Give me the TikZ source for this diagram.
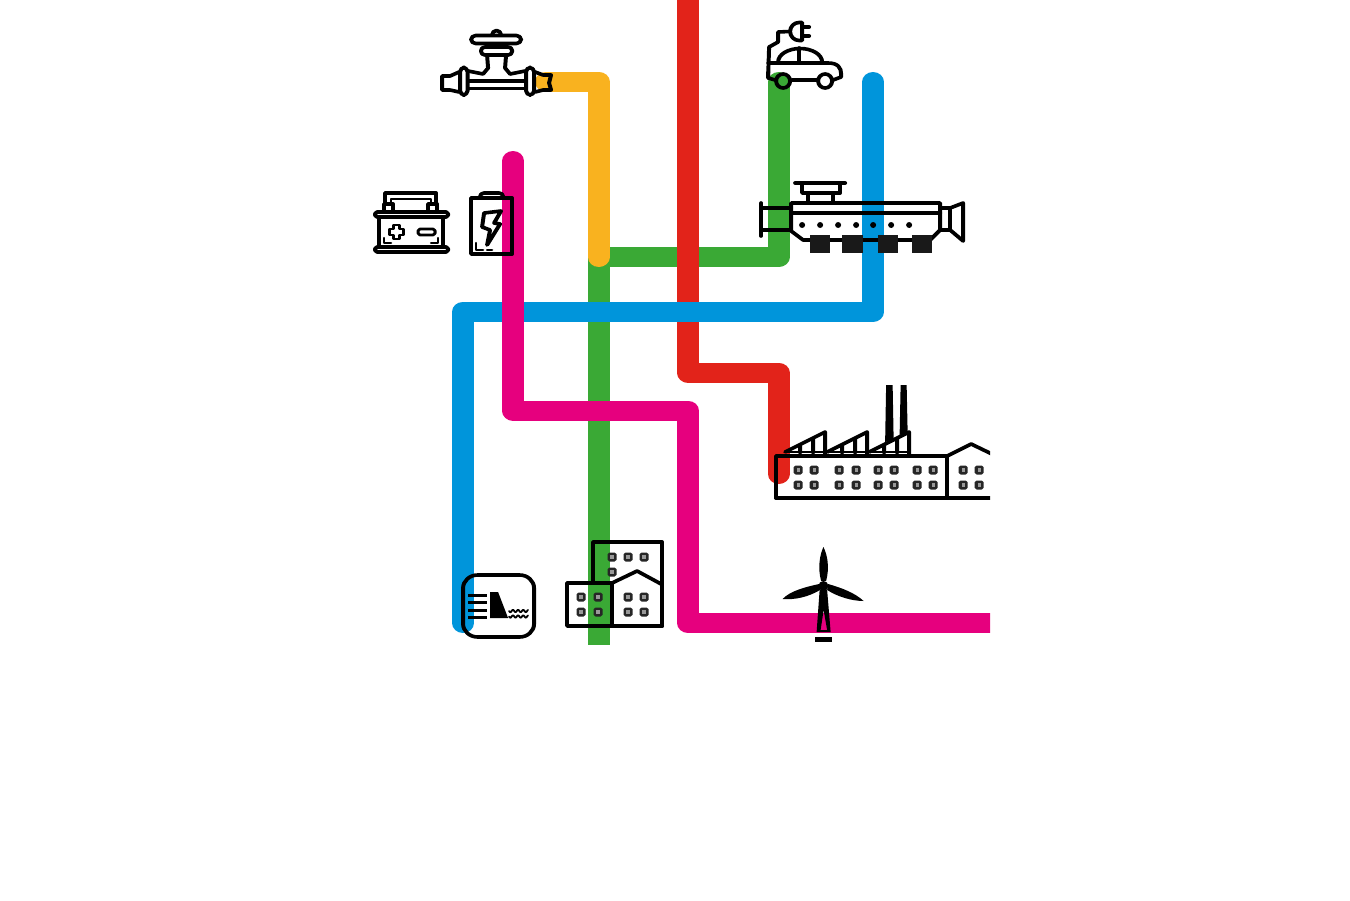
\documentclass[tikz,border=0pt]{standalone}
\usetikzlibrary{calc}
\definecolor{pipered}{HTML}{E2231A}
\definecolor{pipegreen}{HTML}{3AA935}
\definecolor{pipeblue}{HTML}{0095DB}
\definecolor{pipepink}{HTML}{E6007E}
\definecolor{pipeyellow}{HTML}{F9B21F}
\begin{document}
\begin{tikzpicture}[
    x=0.02cm, y=-0.02cm,
    pipe/.style={line width=0.4cm, line join=round, line cap=round},
    icon/.style={line width=0.072cm, line join=round, line cap=round, draw=black},
    thinicon/.style={icon, line width=0.045cm},
    win/.pic={
        \fill[black!85, rounded corners=1pt] (-4.5,-4.5) rectangle (4.5,4.5);
        \fill[black!40] (-1.6,-1.6) rectangle (1.6,1.6);
    }
    ]
    \useasboundingbox (0,0) rectangle (1350,900);
\begin{scope}[transform canvas={xscale=1.1}, x=0.0181818cm]
    \clip (0,-20) rectangle (990,644);
    % pipe corners
    \coordinate (tapend) at (546,81.7);
    \coordinate (tapcorner) at (598.5,81.7);
    \coordinate (greenjoint) at (598.5,257);
    \coordinate (greenbottom) at (598.5,660);
    \coordinate (greencorner) at (778.5,257);
    \coordinate (carend) at (778.5,82);
    \coordinate (redtop) at (688,-20);
    \coordinate (redcorner) at (688,372.7);
    \coordinate (redstep) at (778.5,372.7);
    \coordinate (factoryend) at (778.5,474);
    \coordinate (enginetop) at (873,82);
    \coordinate (bluecorner) at (873,311.7);
    \coordinate (bluestep) at (463,311.7);
    \coordinate (damend) at (463,623);
    \coordinate (pinktop) at (513,161);
    \coordinate (pinkcorner) at (513,410.5);
    \coordinate (pinkstep) at (688,410.5);
    \coordinate (pinkdown) at (688,623);
    \coordinate (pinkright) at (1010,623);

    % pipes, bottom one first
    \draw[pipe, pipegreen] (greenbottom) -- (greenjoint) -- (greencorner) -- (carend);
    \draw[pipe, pipered] (redtop) -- (redcorner) -- (redstep) -- (factoryend);
    \draw[pipe, pipeyellow] (tapend) -- (tapcorner) -- (greenjoint);
    \draw[pipe, pipeblue] (enginetop) -- (bluecorner) -- (bluestep) -- (damend);
    \draw[pipe, pipepink] (pinktop) -- (pinkcorner) -- (pinkstep) -- (pinkdown) -- (pinkright);

    % tap
    \draw[icon, rounded corners=2.4pt] (471,35.5) rectangle (521,43.5);
    \draw[icon] (492,35) arc (180:360:4.5);
    \draw[icon] (493,44) -- (493,47) (500,44) -- (500,47);
    \draw[icon, rounded corners=2pt] (481,47) rectangle (512,55);
    \draw[icon] (487,55) -- (488,68) -- (483,74) -- (468,71);
    \draw[icon] (506,55) -- (505,68) -- (510,74) -- (525,71);
    \draw[icon] (468,81) -- (525,81) (468,88.5) -- (525,88.5);
    \draw[icon, rounded corners=2.4pt] (460,67.5) rectangle (467.5,95);
    \draw[icon, rounded corners=2.4pt] (526,67.5) rectangle (534,95);
    \draw[icon] (459,72) -- (450,76) -- (442,76) -- (442,90) -- (450,90) -- (459,92);
    \draw[icon] (535,72) -- (543,75) -- (551,75) -- (549,83) -- (551,90) -- (543,90) -- (535,92);

    % car with plug
    \draw[icon] (802,22.5) -- (802,40.5) -- (799,40.5) arc (90:270:9) -- cycle;
    \draw[icon] (802,27) -- (809,27) (802,36) -- (809,36);
    \draw[icon] (789,31.5) -- (778,32) -- (778,42) -- (769,47) -- (768,77);
    \draw[icon] (778,62) arc (180:360:22 and 13.5);
    \draw[icon] (799,48) -- (799,62);
    \draw[icon] (768,63) -- (828,63) .. controls (838,63) and (841,68) .. (841,74) -- (841,77) -- (833,80);
    \draw[icon] (768,72) -- (768,78) -- (775,80);
    \draw[icon] (792,80) -- (817,80);
    \draw[icon] (783,81) circle (7);
    \draw[icon] (825,81) circle (7);

    % engine
    \draw[icon] (795,183) -- (845,183) (802,183) -- (802,193) -- (840,193) -- (840,183);
    \draw[icon] (808,193) -- (808,203) (833,193) -- (833,203);
    \draw[icon] (791,203) -- (940,203) -- (940,230) -- (930,240) -- (803,240) -- (791,231) -- cycle;
    \draw[icon] (791,213) -- (940,213);
    \foreach \dotx in {802,820,838,856,873,891,909}
        \fill (\dotx,225) circle (3);
    \foreach \boxx/\boxw in {810/20,842/21,878/20,912/20}
        \fill[black!90] (\boxx,235) rectangle ++(\boxw,18);
    \draw[icon] (761,203) -- (761,236) (761,208) -- (791,208) (761,230) -- (791,230);
    \draw[icon] (940,208) -- (950,208) -- (963,203) -- (963,241) -- (950,230) -- (940,230);
    \draw[icon] (950,208) -- (950,230);

    % factory
    \draw[icon] (776,498) -- (776,456) -- (947,456) -- (947,498);
    \draw[icon] (776,498) -- (1000,498);
    \draw[icon] (947,456) -- (971,444) -- (1000,458);
    \draw[thinicon] (785,452) -- (908,452);
    \foreach \toothx in {785,827,869}
        \draw[icon] (\toothx,452) -- ++(40,-20) -- ++(0,22)
            (\toothx+15,446) -- ++(0,7) (\toothx+28,439) -- ++(0,14);
    \fill (885,442) -- (886,385) -- (892.5,385) -- (893.5,439) -- cycle;
    \fill (899.5,435) -- (900.5,385) -- (906.5,385) -- (907.5,432) -- cycle;
    \foreach \winx in {798,814,839,856,878,894,917,933,963,979}
        \foreach \winy in {470,485}
            \pic at (\winx,\winy) {win};

    % wind turbine
    \fill (823.3,547) .. controls (827.5,555) and (829.5,568) .. (826,581) -- (821,581) .. controls (817.5,568) and (819.5,555) .. cycle;
    \fill (782.5,599) .. controls (790,591) and (805,587) .. (819,584) -- (820,590) .. controls (808,597) and (795,600) .. cycle;
    \fill (863.5,601) .. controls (855,593) and (842,588) .. (828,584) -- (827,590) .. controls (838,597) and (852,601) .. cycle;
    \fill (823.3,586) circle (5);
    \fill[even odd rule] (819.5,590) -- (827,590) -- (830.5,632) -- (816.5,632) -- cycle
        (823.5,610) -- (827,630) -- (820.5,630) -- cycle;
    \fill (815,637) rectangle (832,642);

    % dam
    \draw[icon, rounded corners=7.5pt] (463,575) rectangle (534,637);
    \foreach \liney in {595,602.7,610,617.7}
        \draw[icon, line width=0.06cm, line cap=butt] (468,\liney) -- (487,\liney);
    \fill (490,592) -- (498,592) -- (508,618) -- (490,618) -- cycle;
    \foreach \wavey in {611,616.5}
        \draw[thinicon, line width=0.034cm] plot[domain=509:528, samples=40] (\x,{\wavey+1.2*sin((\x-509)*70)});

    % buildings
    \draw[icon] (593,583) -- (593,542) -- (662,542) -- (662,626);
    \draw[icon] (567,583) rectangle (612,626);
    \draw[icon] (612,583) -- (637,571) -- (661,584);
    \draw[icon] (612,626) -- (662,626);
    \foreach \winx/\winy in {612/557,628/557,644/557,612/572,581/597,598/597,581/612,598/612,628/597,644/597,628/612,644/612}
        \pic at (\winx,\winy) {win};

    % car battery
    \draw[icon] (385,204) -- (385,193) -- (436,193) -- (436,204);
    \draw[thinicon] (391,204) -- (391,199) -- (431,199) -- (431,204);
    \draw[icon] (384,204) rectangle (393,212) (428,204) rectangle (437,212);
    \draw[icon, rounded corners=1pt] (375,212) rectangle (448,217);
    \draw[icon] (379,217) -- (379,247) (443,217) -- (443,247);
    \draw[icon, rounded corners=1pt] (375,247) rectangle (448,252);
    \draw[icon, line width=0.055cm] (393,225) -- (399,225) -- (399,229) -- (403,229) -- (403,235) -- (399,235) -- (399,239) -- (393,239) -- (393,235) -- (389,235) -- (389,229) -- (393,229) -- cycle;
    \draw[icon, line width=0.055cm, rounded corners=1pt] (418,229) rectangle (435,235);
    \draw[thinicon] (384,238) -- (384,243) -- (391,243) (438,238) -- (438,243) -- (431,243);

    % lithium battery
    \draw[icon, rounded corners=2pt] (480,198) -- (480,193) -- (503,193) -- (503,198);
    \draw[icon] (471,198) rectangle (512,254);
    \draw[icon] (484,213) -- (501,211) -- (494,223) -- (500,224) -- (487,245) -- (490,230) -- (482,227) -- cycle;
    \draw[thinicon] (476,243) -- (476,250) -- (483,250) (487,250) -- (492,250);
\end{scope}
\end{tikzpicture}
\end{document}
